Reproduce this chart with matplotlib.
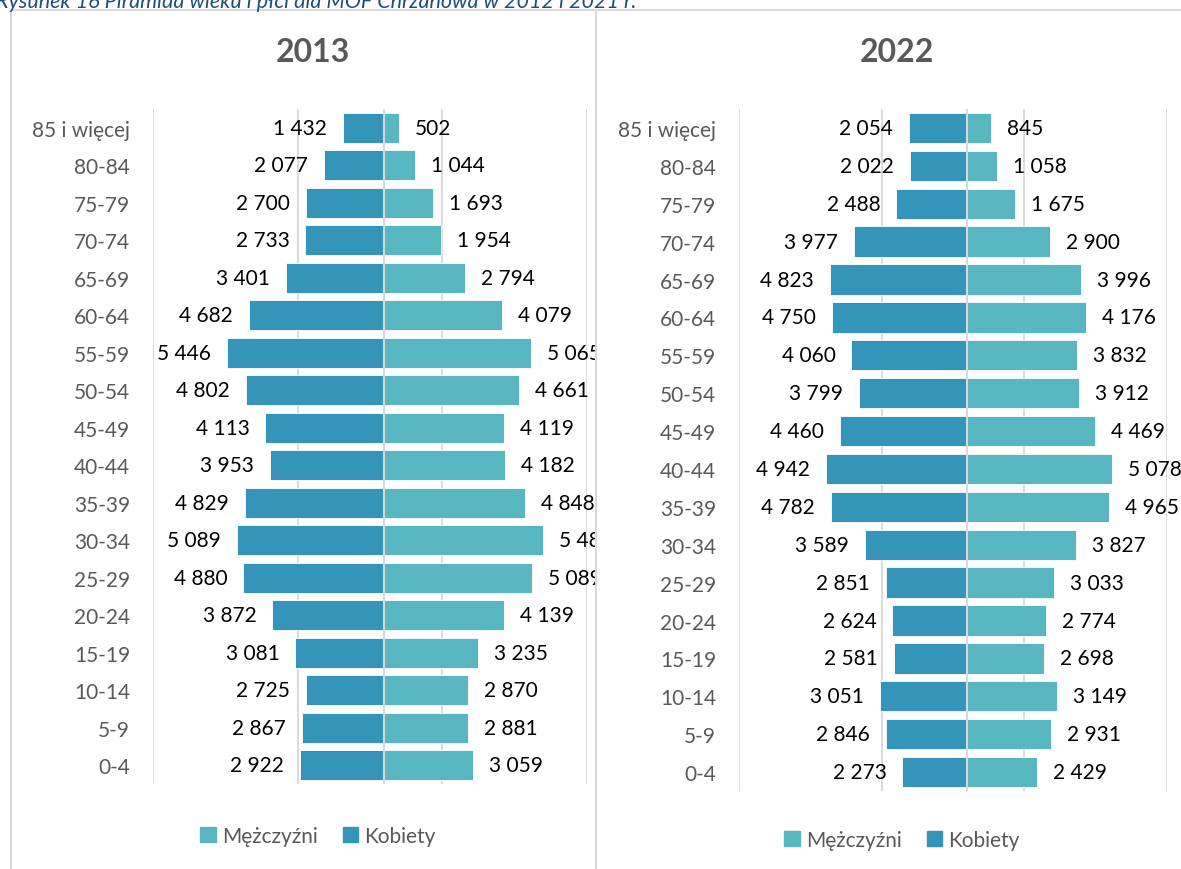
import matplotlib
matplotlib.use('Agg')
import matplotlib.pyplot as plt
from matplotlib.patches import Rectangle
from matplotlib.lines import Line2D
from matplotlib.transforms import offset_copy

plt.rcParams['font.family'] = ['Lato', 'DejaVu Sans']

# --- data (bottom to top) ---
age_groups = ['0-4', '5-9', '10-14', '15-19', '20-24', '25-29', '30-34', '35-39', '40-44',
              '45-49', '50-54', '55-59', '60-64', '65-69', '70-74', '75-79', '80-84', '85 i więcej']

women_2013 = [2922, 2867, 2725, 3081, 3872, 4880, 5089, 4829, 3953,
              4113, 4802, 5446, 4682, 3401, 2733, 2700, 2077, 1432]
men_2013 = [3059, 2881, 2870, 3235, 4139, 5089, 5484, 4848, 4182,
            4119, 4661, 5065, 4079, 2794, 1954, 1693, 1044, 502]

women_2022 = [2273, 2846, 3051, 2581, 2624, 2851, 3589, 4782, 4942,
              4460, 3799, 4060, 4750, 4823, 3977, 2488, 2022, 2054]
men_2022 = [2429, 2931, 3149, 2698, 2774, 3033, 3827, 4965, 5078,
            4469, 3912, 3832, 4176, 3996, 2900, 1675, 1058, 845]

years = ['2013', '2022']
legend_labels = ['Mężczyźni', 'Kobiety']
caption = 'Rysunek 16 Piramida wieku i płci dla MOF Chrzanowa w 2012 i 2021 r.'

C_WOMEN = '#3494BA'
C_MEN = '#58B6C0'
GRID = '#D9D9D9'
GREY_TXT = '#595959'

W, H = 1181, 870
fig = plt.figure(figsize=(W / 100, H / 100), dpi=100)


def px_rect(x0, y0, x1, y1):
    """pixel box (top-left origin) -> figure fraction rect"""
    return [x0 / W, 1 - y1 / H, (x1 - x0) / W, (y1 - y0) / H]


def fmt(v):
    return f'{v:,}'.replace(',', ' ')


# chart borders
fig.add_artist(Line2D([11 / W, 1], [1 - 11 / H] * 2, transform=fig.transFigure, color=GRID, lw=1.5))
fig.add_artist(Line2D([11 / W] * 2, [0, 1 - 11 / H], transform=fig.transFigure, color=GRID, lw=1.5))
fig.add_artist(Line2D([596 / W] * 2, [0, 1 - 11 / H], transform=fig.transFigure, color=GRID, lw=1.5))

# caption (cut at the top edge like in the source)
fig.text(-4 / W, 1 - 8 / H, caption, fontsize=15.5, style='italic', color='#1F4E79',
         ha='left', va='baseline')

panels = [
    (years[0], women_2013, men_2013, (153, 110, 587, 785), (11, 596), 313, 318, 837),
    (years[1], women_2022, men_2022, (739, 110, 1167, 792), (596, W), 897, 902, 841),
]

ypos = list(range(len(age_groups)))

for title, women, men, box, clip_x, title_x, leg_x, leg_y in panels:
    ax = fig.add_axes(px_rect(*box))
    ax.barh(ypos, [-v for v in women], height=0.8, color=C_WOMEN, edgecolor='white', lw=0.6, zorder=2)
    ax.barh(ypos, men, height=0.8, color=C_MEN, edgecolor='white', lw=0.6, zorder=2)
    ax.axvline(0, color=GRID, lw=1.5, zorder=3)

    ax.set_xlim(-8000, 7000)
    ax.set_ylim(-0.5, len(age_groups) - 0.5)
    ax.set_xticks([-8000, -3000, 2000, 7000])
    ax.xaxis.grid(True, color=GRID, lw=1.3, zorder=0)
    ax.set_axisbelow(True)
    ax.tick_params(axis='x', length=0, labelbottom=False)
    ax.set_yticks(ypos)
    ax.set_yticklabels(age_groups, fontsize=15, color=GREY_TXT)
    ax.tick_params(axis='y', length=0, pad=16.5)
    for s in ax.spines.values():
        s.set_visible(False)

    clip = Rectangle((clip_x[0] / W, 0), (clip_x[1] - clip_x[0]) / W, 1 - 11 / H,
                     transform=fig.transFigure)
    left_tr = offset_copy(ax.transData, fig=fig, x=-16, y=0, units='dots')
    right_tr = offset_copy(ax.transData, fig=fig, x=16, y=0, units='dots')
    for y, w, m in zip(ypos, women, men):
        t1 = ax.text(-w, y, fmt(w), transform=left_tr, ha='right', va='center',
                     fontsize=15, color='black', clip_on=True)
        t2 = ax.text(m, y, fmt(m), transform=right_tr, ha='left', va='center',
                     fontsize=15, color='black', clip_on=True)
        t1.set_clip_path(clip)
        t2.set_clip_path(clip)

    fig.text(title_x / W, 1 - 53 / H, title, fontsize=23, fontweight='bold',
             color=GREY_TXT, ha='center', va='center')

    handles = [Rectangle((0, 0), 1, 1, color=C_MEN), Rectangle((0, 0), 1, 1, color=C_WOMEN)]
    fig.legend(handles, legend_labels, loc='center', bbox_to_anchor=(leg_x / W, 1 - leg_y / H),
               ncol=2, frameon=False, fontsize=15, labelcolor=GREY_TXT,
               handlelength=0.75, handleheight=0.75, handletextpad=0.3, columnspacing=1.2)

fig.savefig('out.png', dpi=100)
